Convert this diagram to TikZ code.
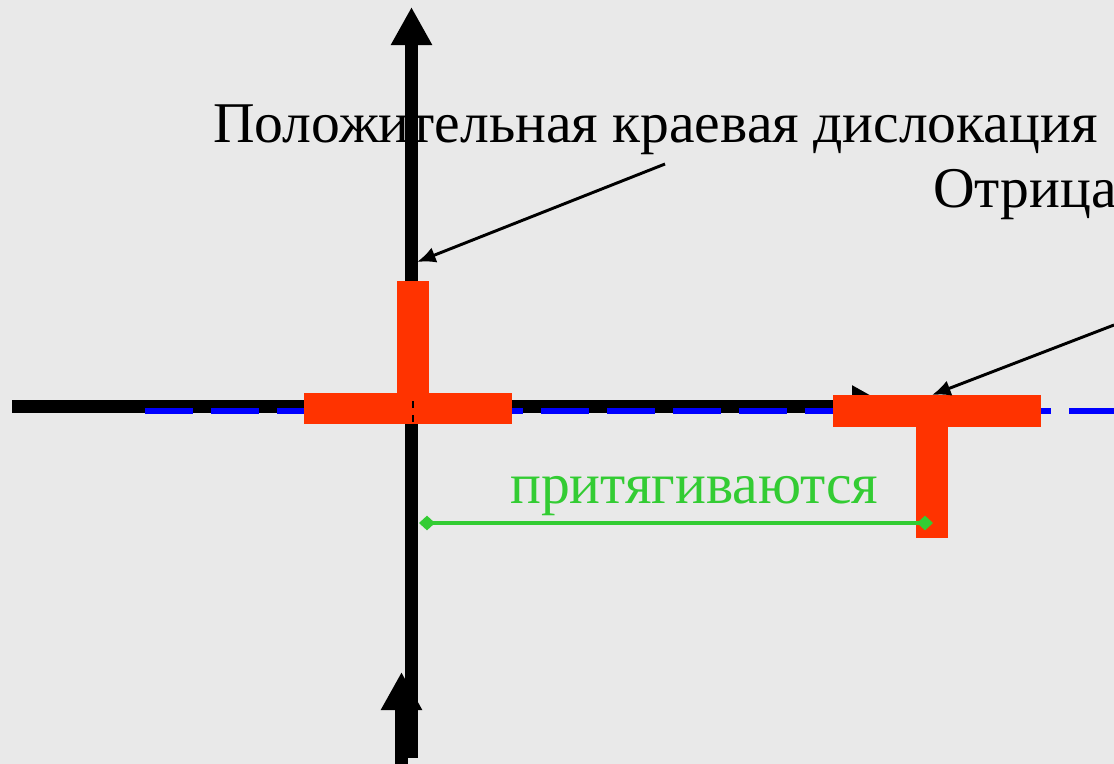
\documentclass[tikz,border=0pt]{standalone}
\usepackage{fontspec}
\setmainfont{Liberation Serif}
\usetikzlibrary{arrows.meta}
\definecolor{slidebg}{RGB}{233,233,233}
\definecolor{edgered}{RGB}{255,51,0}
\definecolor{slipblue}{RGB}{0,0,255}
\definecolor{attrgreen}{RGB}{51,204,51}

\begin{document}
\begin{tikzpicture}[
  x=0.75pt, y=-0.75pt,
  font=\fontsize{43.2}{52}\selectfont,
  lab/.style={inner sep=0pt, anchor=base west},
  axis/.style={line width=9.75pt, black},
  axarr/.style={axis, -{Triangle[length=28.5pt, width=29pt]}},
  callout/.style={-{Latex[length=14pt, width=12pt]}, line width=2.2pt},
  redbar/.style={fill=edgered},
  slip/.style={slipblue, line width=4.5pt, dash pattern=on 36pt off 13.5pt},
  gap/.style={attrgreen, line width=3pt,
    {Diamond[length=12pt, width=11pt]}-{Diamond[length=12pt, width=11pt]}}
]
% ---------- Background ----------
\fill[slidebg] (0,0) rectangle (1114,764);
\useasboundingbox (0,0) rectangle (1114,764);

% ---------- Axes and slip plane ----------
\draw[axarr] (12,406) -- (890,406);
\draw[slip] (145,411) -- (1114,411);
\draw[axarr] (411.5,758) -- (411.5,7);
\draw[axarr] (401.5,764) -- (401.5,672);

% ---------- Dislocations ----------
\fill[redbar] (397,281) rectangle (429,395);
\fill[redbar] (304,393) rectangle (512,424);
\draw[line width=1.5pt, dash pattern=on 5.25pt off 5.25pt] (413,401) -- (413,424);
\fill[redbar] (833,395) rectangle (1041,427);
\fill[redbar] (916,427) rectangle (948,538);

% ---------- Labels ----------
\node[lab] (poslab) at (213,142) {Положительная краевая дислокация};
\node[lab] (neglab) at (933,207) {Отрица};
\node[lab, text=attrgreen] (attrlab) at (510,503) {притягиваются};

% ---------- Callouts ----------
\coordinate (posfrom) at (665,164);
\coordinate (posto) at (417,262);
\coordinate (negfrom) at (1114,325);
\coordinate (negto) at (932,395);
\draw[callout] (posfrom) -- (posto);
\draw[callout] (negfrom) -- (negto);

% ---------- Distance ----------
\coordinate (gapl) at (419,523);
\coordinate (gapr) at (933,523);
\draw[gap] (gapl) -- (gapr);
\end{tikzpicture}
\end{document}
